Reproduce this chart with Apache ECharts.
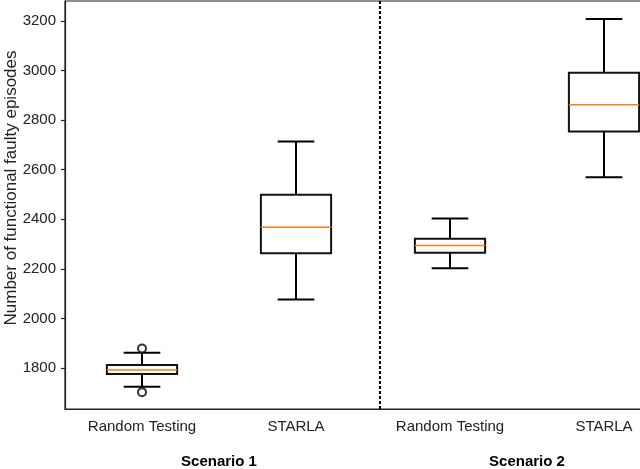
<!DOCTYPE html>
<html>
<head>
<meta charset="utf-8">
<script src="https://cdn.jsdelivr.net/npm/echarts@6/dist/echarts.min.js"></script>
<style>
  html, body { margin: 0; padding: 0; background: #fff; }
  #chart { width: 640px; height: 469px; }
</style>
</head>
<body>
<div id="chart"></div>
<script>
// categories and box statistics
var categories = ['Random Testing', 'STARLA', 'Random Testing', 'STARLA'];
var scenarios = ['Scenario 1', 'Scenario 2'];
var whiskerLow = [1725, 2076, 2202, 2569];
var q1 = [1776, 2263, 2265, 2754];
var median = [1792, 2368, 2294, 2862];
var q3 = [1812, 2499, 2321, 2991];
var whiskerHigh = [1862, 2714, 2403, 3207];
var outliers = [[0, 1879], [0, 1703]];
var yTicks = [1800, 2000, 2200, 2400, 2600, 2800, 3000, 3200];
var separatorX = 1.545;

var FONT = 'Liberation Sans';
var INK = '#222';

var boxData = [];
for (var i = 0; i < categories.length; i++) {
    boxData.push([i, whiskerLow[i], q1[i], median[i], q3[i], whiskerHigh[i]]);
}

function renderBox(params, api) {
    var i = api.value(0);
    var bw = api.size([1, 0])[0];
    var half = bw * 0.228;
    var cap = bw * 0.119;
    var pLo = api.coord([i, api.value(1)]);
    var pQ1 = api.coord([i, api.value(2)]);
    var pMed = api.coord([i, api.value(3)]);
    var pQ3 = api.coord([i, api.value(4)]);
    var pHi = api.coord([i, api.value(5)]);
    var x = pMed[0];
    var whisk = { stroke: '#000', lineWidth: 2 };
    return {
        type: 'group',
        children: [
            { type: 'line', shape: { x1: x, y1: pQ1[1], x2: x, y2: pLo[1] }, style: whisk },
            { type: 'line', shape: { x1: x, y1: pQ3[1], x2: x, y2: pHi[1] }, style: whisk },
            { type: 'line', shape: { x1: x - cap, y1: pLo[1], x2: x + cap, y2: pLo[1] }, style: whisk },
            { type: 'line', shape: { x1: x - cap, y1: pHi[1], x2: x + cap, y2: pHi[1] }, style: whisk },
            { type: 'rect', shape: { x: x - half, y: pQ3[1], width: half * 2, height: pQ1[1] - pQ3[1] },
              style: { fill: '#fff', stroke: '#111', lineWidth: 2 } },
            { type: 'line', shape: { x1: x - half, y1: pMed[1], x2: x + half, y2: pMed[1] },
              style: { stroke: '#ff7f0e', lineWidth: 1.5 } }
        ]
    };
}

var myChart = echarts.init(document.getElementById('chart'));

option = {
    animation: false,
    backgroundColor: '#fff',
    grid: {
        left: 65,
        right: -41,
        top: 1,
        bottom: 60,
        containLabel: false,
        outerBoundsMode: 'none',
        show: true,
        borderColor: INK,
        borderWidth: 1.2
    },
    xAxis: [{
        type: 'category',
        data: categories,
        axisLine: { lineStyle: { color: INK, width: 1.2 } },
        axisTick: { alignWithLabel: true, length: 4, lineStyle: { color: INK, width: 1.2 } },
        axisLabel: { interval: 0, color: INK, fontFamily: FONT, fontSize: 15, margin: 10 },
        splitLine: { show: false }
    }, {
        type: 'category',
        data: scenarios,
        position: 'bottom',
        axisLine: { show: false },
        axisTick: { show: false },
        axisLabel: { interval: 0, color: '#000', fontFamily: FONT, fontSize: 15, fontWeight: 'bold', margin: 45 },
        splitLine: { show: false }
    }, {
        type: 'value',
        min: -0.5,
        max: 3.5,
        show: false
    }],
    yAxis: {
        type: 'value',
        min: 1635,
        max: 3280,
        name: 'Number of functional faulty episodes',
        nameLocation: 'middle',
        nameGap: 45,
        nameMoveOverlap: false,
        nameTextStyle: { color: INK, fontFamily: FONT, fontSize: 17, padding: [0, 0, 0, 34] },
        axisLine: { show: true, onZero: false, lineStyle: { color: INK, width: 1.2 } },
        axisTick: { show: true, length: 4, customValues: yTicks, lineStyle: { color: INK, width: 1.2 } },
        axisLabel: {
            color: INK, fontFamily: FONT, fontSize: 15, margin: 9, customValues: yTicks,
            formatter: function (v) { return String(v); }
        },
        splitLine: { show: false }
    },
    series: [{
        type: 'custom',
        xAxisIndex: 0,
        renderItem: renderBox,
        encode: { x: 0, y: [1, 2, 3, 4, 5] },
        data: boxData,
        z: 3
    }, {
        type: 'scatter',
        xAxisIndex: 0,
        symbol: 'emptyCircle',
        symbolSize: 8,
        itemStyle: { color: '#000', borderColor: '#000', borderWidth: 1.5 },
        data: outliers,
        z: 4
    }, {
        type: 'line',
        xAxisIndex: 2,
        symbol: 'none',
        lineStyle: { color: '#000', width: 2, type: [3, 2] },
        data: [[separatorX, 1635], [separatorX, 3280]],
        z: 2
    }]
};

myChart.setOption(option);
</script>
</body>
</html>
